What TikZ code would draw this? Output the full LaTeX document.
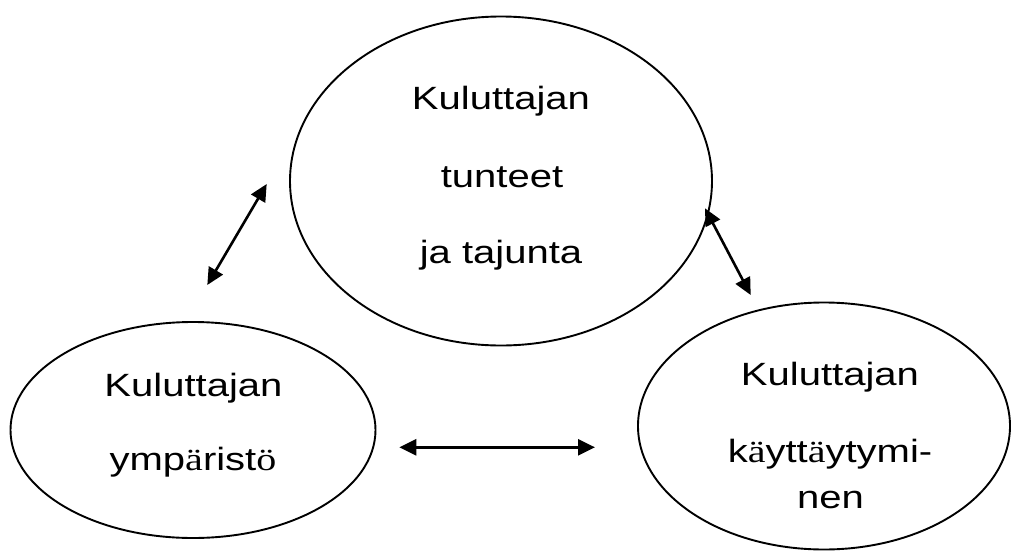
\documentclass[tikz,border=0pt]{standalone}
\usepackage{fontspec}
\setmainfont[FakeStretch=1.243]{Liberation Sans}
\newfontfamily\tmfont[FakeStretch=1.243]{Liberation Serif}
\usetikzlibrary{shapes.geometric,arrows.meta}
\begin{document}
\begin{tikzpicture}[x=1pt,y=-1pt,
  oval/.style={draw,ellipse,line width=1.9pt,inner sep=0pt},
  lbl/.style={anchor=base,inner sep=0pt,font=\fontsize{32.2}{36}\selectfont},
  dbl/.style={line width=2.6pt,{Triangle[length=17pt,width=16pt]}-{Triangle[length=17pt,width=16pt]}}]
\useasboundingbox (0,0) rectangle (1013,552);
% ellipses
\node[oval,minimum width=422pt,minimum height=329pt] (top) at (501,181) {};
\node[oval,minimum width=365pt,minimum height=216pt] (left) at (193,430) {};
\node[oval,minimum width=372pt,minimum height=247pt] (right) at (824,426) {};
% texts
\node[lbl] (t1) at (501,109) {Kuluttajan};
\node[lbl] (t2) at (502,187) {tunteet};
\node[lbl] (t3) at (501,263) {ja tajunta};
\node[lbl] (l1) at (193.5,396) {Kuluttajan};
\node[lbl] (l2) at (193,470) {ymp{\tmfont ä}rist{\tmfont ö}};
\node[lbl] (r1) at (830,385) {Kuluttajan};
\node[lbl] (r2) at (830,462) {k{\tmfont ä}ytt{\tmfont ä}ytymi-};
\node[lbl] (r3) at (830.5,508) {nen};
% arrow ends
\coordinate (a1s) at (207.3,285);
\coordinate (a1e) at (266.7,184);
\coordinate (a2s) at (705,208.3);
\coordinate (a2e) at (750.7,295);
\coordinate (a3s) at (399.3,447.3);
\coordinate (a3e) at (595,447.3);
\draw[dbl] (a1s) -- (a1e);
\draw[dbl] (a2s) -- (a2e);
\draw[dbl] (a3s) -- (a3e);
\end{tikzpicture}
\end{document}
